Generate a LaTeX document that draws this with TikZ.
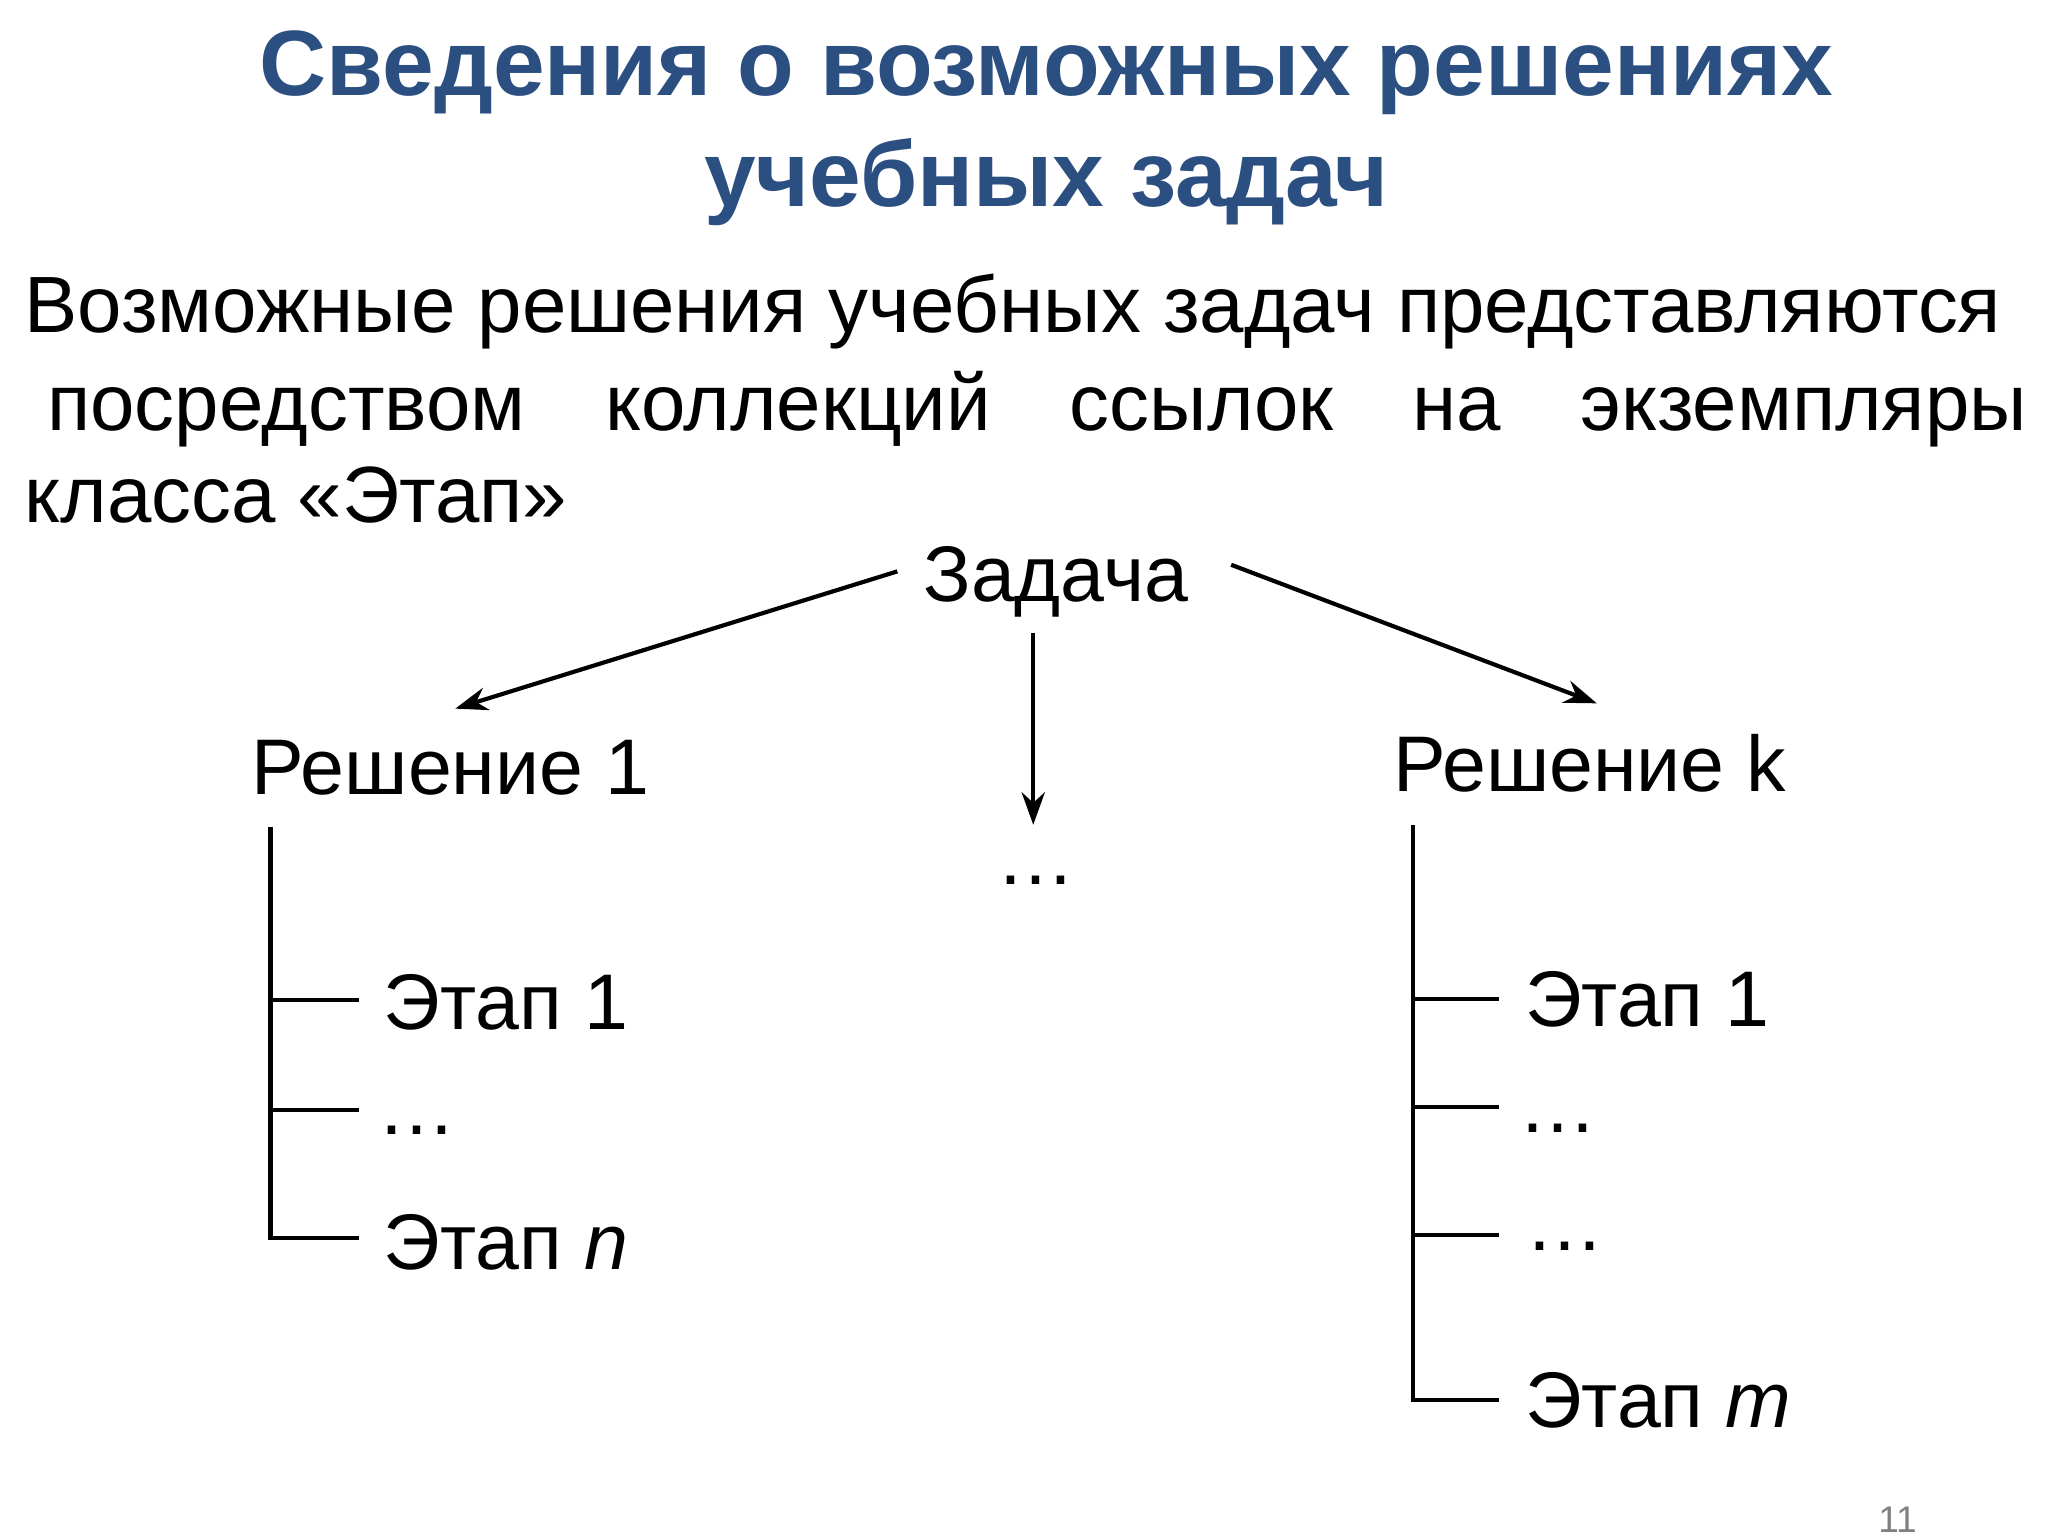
\documentclass[tikz,border=0pt]{standalone}
\usepackage{fontspec}
\setmainfont{Liberation Sans}
\usetikzlibrary{arrows.meta}
\definecolor{titleblue}{HTML}{2B4F80}
\begin{document}
\begin{tikzpicture}[x=0.01cm,y=-0.01cm,
  ttl/.style={font=\fontsize{20}{24}\selectfont\bfseries,text=titleblue,inner sep=0pt},
  body/.style={font=\fontsize{17.2}{20}\selectfont,inner sep=0pt,anchor=base west},
  lbl/.style={font=\fontsize{17}{20}\selectfont,inner sep=0pt,anchor=base west},
  arr/.style={line width=0.9pt,-{Stealth[length=7pt,width=5pt]}},
  ln/.style={line width=0.9pt}]
\useasboundingbox (0,0) rectangle (1552,1164);
\node[ttl] (t1) at (793,55) {Сведения о возможных решениях};
\node[ttl] (t2) at (793,138) {учебных задач};
\node[body] (b1) at (18,252) {Возможные решения учебных задач представляются};
\node[body] (w1) at (35,326) {посредством};
\node[body] (w2) at (458,326) {коллекций};
\node[body] (w3) at (810,326) {ссылок};
\node[body] (w4) at (1070,326) {на};
\node[body] (w5) at (1197,326) {экземпляры};
\node[body] (b3) at (18,396) {класса «Этап»};
\node[lbl,anchor=base] (z) at (800,456) {Задача};
\node[lbl] (r1) at (190,602) {Решение 1};
\node[lbl,anchor=base] (md) at (785,670) {…};
\node[lbl] (rk) at (1055,600) {Решение k};
\coordinate (a1s) at (680,433); \coordinate (a1e) at (345,537);
\coordinate (a2s) at (783,480); \coordinate (a2e) at (783,625);
\coordinate (a3s) at (933,428); \coordinate (a3e) at (1210,533);
\draw[arr] (a1s) -- (a1e);
\draw[arr] (a2s) -- (a2e);
\draw[arr] (a3s) -- (a3e);
% left tree
\node[lbl] (l1) at (290,780) {Этап 1};
\node[lbl] (l2) at (285,860) {…};
\node[lbl] (l3) at (290,962) {Этап \textit{n}};
\coordinate (lt) at (205,627);
\draw[ln] (lt) -- (205,938) -- (272,938);
\draw[ln] (205,758) -- (272,758);
\draw[ln] (205,841) -- (272,841);
% right tree
\node[lbl] (q1) at (1155,778) {Этап 1};
\node[lbl] (q2) at (1150,858) {…};
\node[lbl] (q3) at (1155,948) {…};
\node[lbl] (q4) at (1155,1082) {Этап \textit{m}};
\coordinate (rt) at (1071,625);
\draw[ln] (rt) -- (1071,1061) -- (1136,1061);
\draw[ln] (1071,757) -- (1136,757);
\draw[ln] (1071,839) -- (1136,839);
\draw[ln] (1071,936) -- (1136,936);
\node[font=\fontsize{8}{10}\selectfont,text=gray,inner sep=0pt] (pg) at (1438,1152) {11};
\end{tikzpicture}
\end{document}
